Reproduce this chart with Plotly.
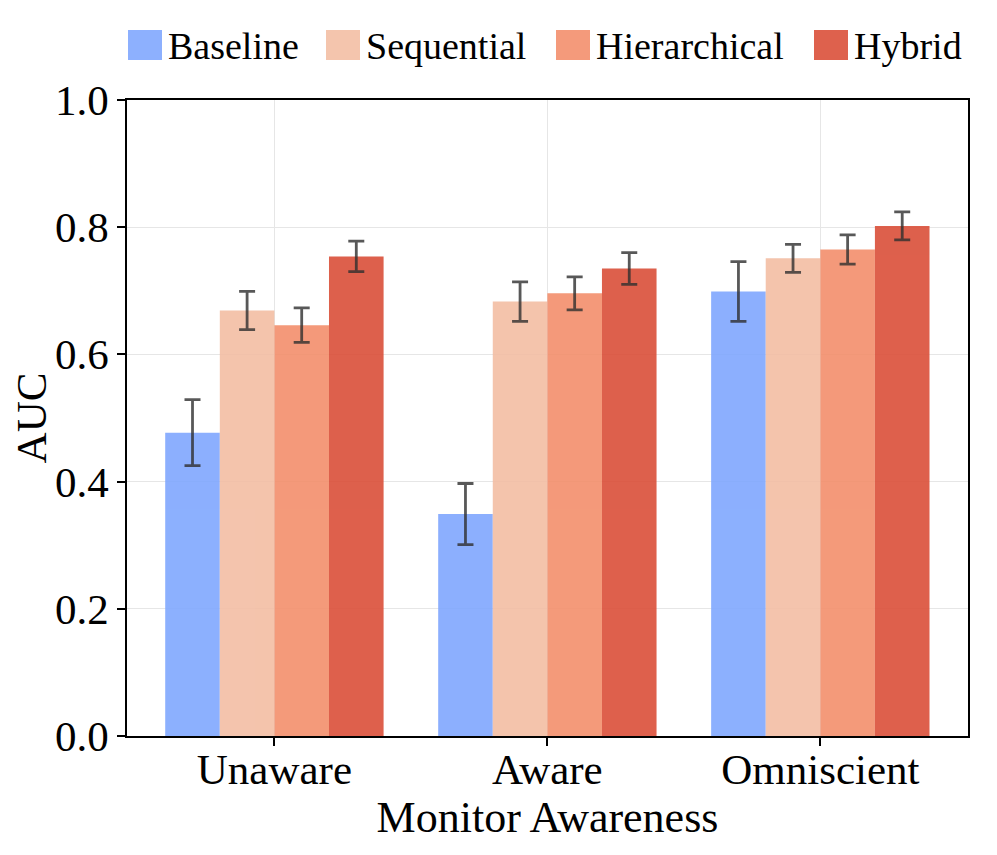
import plotly.graph_objects as go

categories = ["Unaware", "Aware", "Omniscient"]
series_names = ["Baseline", "Sequential", "Hierarchical", "Hybrid"]
colors = ["#80A7FE", "#F3BEA4", "#F38F6C", "#DA4F39"]
legend_colors = ["#8DB0FE", "#F4C5AD", "#F49A7B", "#DE614D"]

baseline = [0.477, 0.349, 0.699]
sequential = [0.669, 0.683, 0.751]
hierarchical = [0.646, 0.696, 0.765]
hybrid = [0.754, 0.735, 0.802]

baseline_err = [0.052, 0.048, 0.047]
sequential_err = [0.030, 0.031, 0.022]
hierarchical_err = [0.027, 0.026, 0.023]
hybrid_err = [0.024, 0.025, 0.022]

values = [baseline, sequential, hierarchical, hybrid]
errors = [baseline_err, sequential_err, hierarchical_err, hybrid_err]

FONT = "Liberation Serif"

# figure is shown with an 8px page offset; plot area in figure px
PL, PR, PT, PB = 119, 960, 92, 728
def px_x(X):
    return (X - 8 - PL) / (PR - PL)
def px_y(Y):
    return (PB - (Y - 8)) / (PB - PT)

fig = go.Figure()
for name, vals, errs, col in zip(series_names, values, errors, colors):
    fig.add_trace(go.Bar(
        x=categories, y=vals, name=name,
        marker=dict(color=col, line=dict(width=0)),
        opacity=0.9,
        showlegend=False,
        error_y=dict(type="data", array=errs, visible=True,
                     color="rgba(25,25,25,0.8)", thickness=2.8, width=8),
    ))

# manual legend (large swatches as in the reference)
legend_x = [128, 326, 556, 814]
for name, col, lx in zip(series_names, legend_colors, legend_x):
    fig.add_shape(type="rect", xref="paper", yref="paper",
                  x0=px_x(lx), x1=px_x(lx + 34), y0=px_y(60), y1=px_y(30),
                  fillcolor=col, line=dict(width=0))
    fig.add_annotation(xref="paper", yref="paper", x=px_x(lx + 38), y=px_y(46),
                       text=name, showarrow=False, xanchor="left", yanchor="middle",
                       font=dict(family=FONT, size=38, color="black"))

fig.update_layout(
    width=997, height=855,
    margin=dict(l=PL, r=997 - PR, t=PT, b=855 - PB),
    paper_bgcolor="white", plot_bgcolor="white",
    barmode="group", bargap=0.2, bargroupgap=0,
    font=dict(family=FONT, size=40, color="black"),
    showlegend=False,
    xaxis=dict(
        title=dict(text="Monitor Awareness", font=dict(family=FONT, size=44), standoff=0),
        automargin=False,
        showline=True, linecolor="black", linewidth=1.5, mirror=True,
        ticks="outside", ticklen=8, tickcolor="black", tickwidth=1.5,
        ticklabelstandoff=-13,
        showgrid=True, gridcolor="#E6E6E6", gridwidth=1.2,
        range=[-0.54, 2.541],
        tickfont=dict(family=FONT, size=43),
    ),
    yaxis=dict(
        title=dict(text="AUC", font=dict(family=FONT, size=43), standoff=10),
        automargin=False,
        range=[0, 1.0], tickvals=[0, 0.2, 0.4, 0.6, 0.8, 1.0],
        tickformat=".1f",
        showline=True, linecolor="black", linewidth=1.5, mirror=True,
        ticks="outside", ticklen=8, tickcolor="black", tickwidth=1.5,
        showgrid=True, gridcolor="#E6E6E6", gridwidth=1.2,
        zeroline=False,
        tickfont=dict(family=FONT, size=43),
    ),
)

fig.write_html("out.html")
